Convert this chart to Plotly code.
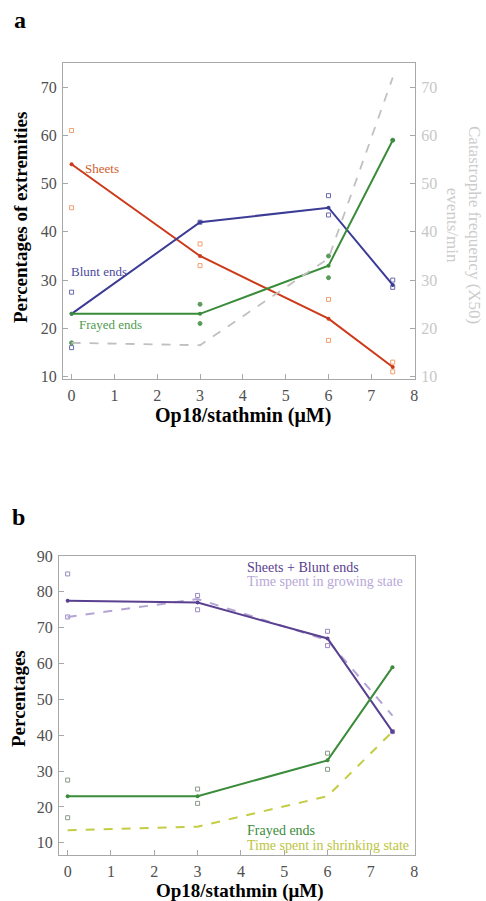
import plotly.graph_objects as go

W, H = 486, 901
FONT = "Liberation Serif"

# ---------------- Panel a data ----------------
conc = [0, 3, 6, 7.5]
sheets = [54, 35, 22, 12]
blunt = [23, 42, 45, 29]
frayed = [23, 23, 33, 59]
catastrophe = [17, 16.5, 34.5, 72]

sheets_pts_x = [0, 0, 3, 3, 6, 6, 7.5, 7.5]
sheets_pts_y = [61, 45, 37.5, 33, 26, 17.5, 13, 11]
blunt_pts_x = [0, 0, 3, 6, 6, 7.5, 7.5]
blunt_pts_y = [27.5, 16, 42, 47.5, 43.5, 30, 28.5]
frayed_pts_x = [0, 3, 3, 6, 6, 7.5]
frayed_pts_y = [17, 25, 21, 35, 30.5, 59]

# ---------------- Panel b data ----------------
sheets_blunt = [77.5, 77, 67, 41]
time_growing = [73, 78, 66.5, 45.5]
frayed_b = [23, 23, 33, 59]
time_shrinking = [13.5, 14.5, 23, 41]

sb_pts_x = [0, 0, 3, 3, 6, 6, 7.5]
sb_pts_y = [85, 73, 79, 75, 69, 65, 41]
fb_pts_x = [0, 0, 3, 3, 6, 6]
fb_pts_y = [27.5, 17, 25, 21, 35, 30.5]

x_ticks = [0, 1, 2, 3, 4, 5, 6, 7, 8]
ya_ticks = [10, 20, 30, 40, 50, 60, 70]
yb_ticks = [10, 20, 30, 40, 50, 60, 70, 80, 90]

RED = "#cc3a1a"
ORANGE = "#f0a070"
BLUE = "#3c3c96"
GREEN = "#3a8c3a"
GRAY = "#c0c0c0"
PURPLE = "#5a4090"
LPURPLE = "#b4a4d4"
YGREEN = "#c4cc44"
AX = "#a8a8a8"

fig = go.Figure()

def line(x, y, color, xa, ya, dash="solid", width=2, marker=True):
    fig.add_trace(go.Scatter(
        x=x, y=y, xaxis=xa, yaxis=ya, mode="lines+markers" if marker else "lines",
        line=dict(color=color, width=width, dash=dash),
        marker=dict(size=4, color=color), showlegend=False, hoverinfo="skip"))

def pts(x, y, color, xa, ya, symbol="square-open"):
    fig.add_trace(go.Scatter(
        x=x, y=y, xaxis=xa, yaxis=ya, mode="markers",
        marker=dict(size=4, color=color, symbol=symbol, line=dict(width=1, color=color)),
        showlegend=False, hoverinfo="skip"))

# panel a
line(conc, catastrophe, GRAY, "x", "y2", dash="dash", width=1.8, marker=False)
pts(sheets_pts_x, sheets_pts_y, ORANGE, "x", "y")
pts(blunt_pts_x, blunt_pts_y, "#6a6aaa", "x", "y")
pts(frayed_pts_x, frayed_pts_y, "#5a9a5a", "x", "y", symbol="circle")
line(conc, sheets, RED, "x", "y")
line(conc, blunt, BLUE, "x", "y")
line(conc, frayed, GREEN, "x", "y")

# panel b
pts(sb_pts_x, sb_pts_y, "#9a8ac0", "x2", "y3")
pts(fb_pts_x, fb_pts_y, "#8a9a8a", "x2", "y3")
line(conc, time_growing, LPURPLE, "x2", "y3", dash="dash", width=2, marker=False)
line(conc, time_shrinking, YGREEN, "x2", "y3", dash="dash", width=2, marker=False)
line(conc, sheets_blunt, PURPLE, "x2", "y3")
line(conc, frayed_b, GREEN, "x2", "y3")

tickfont = dict(family=FONT, size=16, color="#505050")
axis_common = dict(ticks="inside", ticklen=5, tickcolor=AX, showline=True,
                   linecolor=AX, linewidth=1.2, showgrid=False, zeroline=False,
                   automargin=False, ticklabelstandoff=2)
common_x = dict(range=[-0.2, 8.02], tickvals=x_ticks, tickfont=tickfont, **axis_common)

fig.update_layout(
    width=W, height=H, margin=dict(l=0, r=0, t=0, b=0),
    paper_bgcolor="white", plot_bgcolor="white",
    xaxis=dict(domain=[63 / W, 415 / W], anchor="y", mirror=True, **common_x),
    yaxis=dict(domain=[1 - 379 / H, 1 - 63 / H], anchor="x", range=[9.5, 75],
               tickvals=ya_ticks, tickfont=tickfont, **axis_common),
    yaxis2=dict(overlaying="y", side="right", anchor="x", range=[9.5, 75],
                tickvals=ya_ticks, tickfont=dict(family=FONT, size=16, color="#c8c8c8"),
                **axis_common),
    xaxis2=dict(domain=[59 / W, 415 / W], anchor="y3", mirror=True, **common_x),
    yaxis3=dict(domain=[1 - 855 / H, 1 - 556 / H], anchor="x2", range=[6.6, 90],
                tickvals=yb_ticks, mirror=True, tickfont=tickfont, **axis_common),
)

ann = []
def text(t, x, y, xref="paper", yref="paper", size=14, color="black", bold=False,
         angle=0, xanchor="center", yanchor="middle", align="center"):
    ann.append(dict(text=f"<b>{t}</b>" if bold else t, x=x, y=y, xref=xref, yref=yref,
                    showarrow=False, textangle=angle, xanchor=xanchor, yanchor=yanchor,
                    align=align, font=dict(family=FONT, size=size, color=color)))

# panel labels
text("a", 20 / W, 1 - 20 / H, size=24, bold=True)
text("b", 18 / W, 1 - 517 / H, size=24, bold=True)

# axis titles panel a
text("Op18/stathmin (μM)", 243 / W, 1 - 415 / H, size=20, bold=True)
text("Percentages of extremities", 20 / W, 1 - 218 / H, size=19, bold=True, angle=-90)
text("Catastrophe frequency (X50)<br>events/min", 464 / W, 1 - 225 / H, size=17,
     color="#cccccc", angle=90)

# axis titles panel b
text("Op18/stathmin (μM)", 240 / W, 1 - 891 / H, size=19, bold=True)
text("Percentages", 18 / W, 1 - 699 / H, size=19, bold=True, angle=-90)

# series labels panel a
text("Sheets", 0.70, 53.2, xref="x", yref="y", size=13, color="#d0602c")
text("Blunt ends", 0.63, 31.8, xref="x", yref="y", size=13, color="#4a4aa0")
text("Frayed ends", 0.92, 20.7, xref="x", yref="y", size=13, color="#4e9a4e")

# series labels panel b
text("Sheets + Blunt ends", 4.1, 86.9, xref="x2", yref="y3", size=14, color=PURPLE,
     xanchor="left")
text("Time spent in growing state", 4.1, 83.0, xref="x2", yref="y3", size=14,
     color="#b8a8d8", xanchor="left")
text("Frayed ends", 4.1, 13.3, xref="x2", yref="y3", size=14, color=GREEN,
     xanchor="left")
text("Time spent in shrinking state", 4.1, 9.3, xref="x2", yref="y3", size=14,
     color="#bcc440", xanchor="left")

fig.update_layout(annotations=ann)
fig.write_html("out.html", config={"displayModeBar": False},
               post_script="document.body.style.margin='0';")
